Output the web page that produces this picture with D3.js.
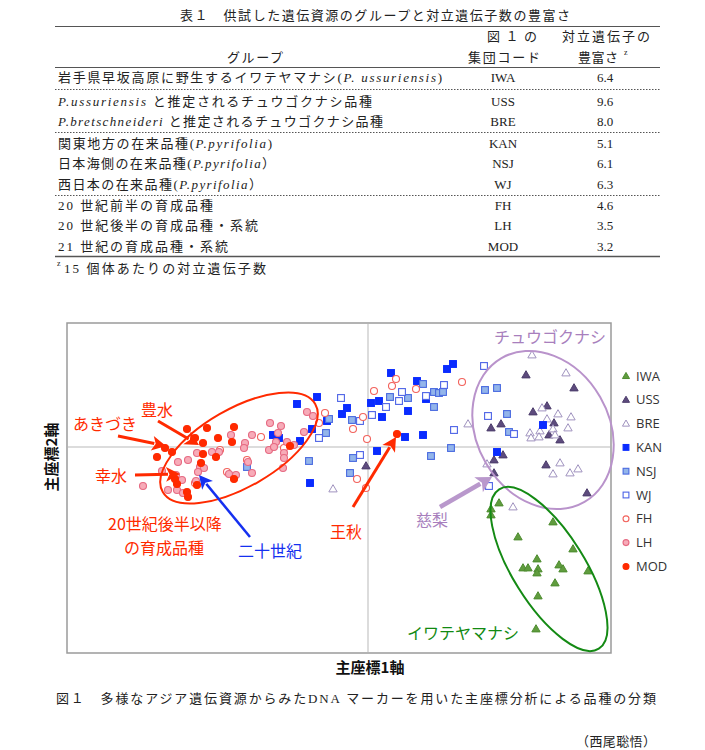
<!DOCTYPE html>
<html><head><meta charset="utf-8">
<script src="https://cdn.jsdelivr.net/npm/d3@7"></script>
<style>body{margin:0;background:#fff}</style>
</head><body><svg id="c" width="705" height="750"></svg>
<script>
// ---------- table data ----------
const tableTitle = "表１　供試した遺伝資源のグループと対立遺伝子数の豊富さ";
const rowLabels = [
  [["岩手県早坂高原に野生するイワテヤマナシ(",0],["P. ussuriensis",1],[")",0]],
  [["P.ussuriensis",1],[" と推定されるチュウゴクナシ品種",0]],
  [["P.bretschneideri",1],[" と推定されるチュウゴクナシ品種",0]],
  [["関東地方の在来品種(",0],["P.pyrifolia",1],[")",0]],
  [["日本海側の在来品種(",0],["P.pyrifolia",1],["）",0]],
  [["西日本の在来品種(",0],["P.pyrifolia",1],["）",0]],
  [["20 世紀前半の育成品種",0]],
  [["20 世紀後半の育成品種・系統",0]],
  [["21 世紀の育成品種・系統",0]]
];
const rowWidths = [384, 314, 325, 214, 217, 204, 155, 200, 170];
const codes = ["IWA","USS","BRE","KAN","NSJ","WJ","FH","LH","MOD"];
const richness = ["6.4","9.6","8.0","5.1","6.1","6.3","4.6","3.5","3.2"];

// ---------- scatter data (principal coordinates) ----------
const IWA = [[1.31,-0.56],[1.23,-0.62],[1.23,-0.68],[1.85,-0.75],[1.50,-0.90],[2.05,-1.02],[1.69,-1.12],[1.55,-1.21],[1.60,-1.21],[1.70,-1.22],[1.69,-1.26],[1.91,-1.18],[1.95,-1.22],[2.20,-1.24],[1.87,-1.36],[1.70,-1.49],[1.68,-1.82]];
const USS = [[1.58,0.72],[2.06,0.59],[1.65,0.35],[1.79,0.41],[1.23,0.19],[1.33,0.23],[1.86,0.24],[1.81,0.12],[1.92,0.07],[1.35,-0.08],[1.26,-0.13],[1.26,-0.26],[1.78,-0.18],[2.19,-0.46],[-0.02,-0.19]];
const BRE = [[1.64,0.92],[1.98,0.74],[1.74,0.39],[1.79,0.28],[1.90,0.33],[2.03,0.30],[2.00,0.19],[1.85,0.18],[1.72,0.16],[1.62,0.14],[1.63,0.09],[1.71,0.10],[1.87,0.12],[1.00,0.23],[1.19,-0.17],[1.92,-0.16],[2.10,-0.22],[1.85,-0.27],[2.02,-0.26],[-0.35,-0.42],[1.45,-0.60]];
const KAN = [[-0.71,0.43],[-0.51,0.50],[-0.21,0.39],[-0.26,0.33],[-0.41,0.26],[-0.56,0.18],[-0.68,0.06],[-0.95,0.12],[-0.89,0.09],[-0.58,-0.36],[0.23,0.74],[0.49,0.66],[0.79,0.78],[0.85,0.83],[0.03,0.44],[0.11,0.46],[0.14,0.30],[0.40,0.36],[0.37,0.10],[0.55,0.12],[0.09,-0.04],[0.58,0.48],[1.75,0.22],[1.29,-0.05]];
const NSJ = [[-0.39,0.28],[-0.42,0.14],[-0.16,0.27],[-0.18,-0.26],[-0.15,-0.11],[-0.59,-0.14],[-1.21,-0.20],[0.22,0.50],[0.40,0.49],[0.55,0.63],[0.66,0.55],[0.71,0.54],[0.75,0.55],[0.66,0.40],[0.83,-0.01],[0.63,-0.09],[1.17,0.57],[1.29,0.59],[1.39,0.33],[1.41,0.15]];
const WJ = [[-0.27,0.49],[0.04,0.32],[-0.08,0.26],[-0.49,0.09],[-0.08,-0.08],[0.18,0.40],[0.31,0.46],[0.34,0.55],[0.58,0.51],[0.76,0.62],[0.86,0.17],[1.16,0.81],[1.20,0.31],[1.46,0.13],[1.21,-0.39]];
const FH = [[-1.07,0.10],[-1.48,-0.03],[-1.41,-0.25],[-0.43,0.34],[-0.15,0.18],[-0.01,0.08],[0.06,0.56],[-0.05,0.30],[0.24,0.61],[0.28,0.68],[0.48,0.58],[0.94,0.65],[-0.11,-0.32],[-0.84,-0.01],[-1.21,-0.13],[-1.73,-0.36],[-0.49,0.24],[-0.02,-0.41]];
const LH = [[-1.37,0.12],[-1.23,0.04],[-1.24,-0.01],[-1.56,-0.05],[-1.49,-0.05],[-1.71,-0.06],[-1.90,-0.15],[-1.80,-0.13],[-1.68,-0.20],[-1.64,-0.21],[-1.70,-0.25],[-1.92,-0.28],[-1.86,-0.33],[-1.72,-0.34],[-1.91,-0.43],[-1.85,-0.46],[-2.00,-0.43],[-2.25,-0.39],[-2.06,-0.24],[-1.39,-0.27],[-1.32,-0.28],[-1.16,-0.26],[-1.20,-0.15],[-1.16,0.12],[-0.98,0.24],[-0.87,0.21],[-0.90,0.14],[-0.92,0.05],[-0.99,-0.03],[-0.94,0.00],[-0.81,0.05],[-0.84,-0.06],[-0.84,-0.11],[-0.85,-0.21],[-0.64,0.15],[-0.74,0.02],[-0.61,0.35],[-0.55,0.31]];
const MOD = [[-1.81,0.18],[-1.61,0.19],[-1.34,0.20],[-1.50,0.09],[-1.36,0.05],[-1.73,0.09],[-1.65,0.04],[-2.03,-0.01],[-1.96,-0.05],[-2.11,-0.10],[-1.65,-0.07],[-1.52,-0.10],[-1.67,-0.16],[-1.34,-0.32],[-1.93,-0.32],[-1.91,-0.37],[-1.71,-0.38],[-1.81,-0.45],[-1.80,-0.50],[-0.78,0.01],[0.29,0.13]];

const seriesNames = ["IWA","USS","BRE","KAN","NSJ","WJ","FH","LH","MOD"];
const seriesData = [IWA,USS,BRE,KAN,NSJ,WJ,FH,LH,MOD];

// annotations (in principal-coordinate units)
const labels = [
  {t:"あきづき", x:-2.63, y:0.23, c:"#ff2a00"},
  {t:"豊水", x:-2.11, y:0.37, c:"#ff2a00"},
  {t:"幸水", x:-2.57, y:-0.29, c:"#ff2a00"},
  {t:"20世紀後半以降", x:-2.03, y:-0.775, c:"#ff2a00"},
  {t:"の育成品種", x:-2.04, y:-1.01, c:"#ff2a00"},
  {t:"二十世紀", x:-0.98, y:-1.04, c:"#1530f0"},
  {t:"王秋", x:-0.22, y:-0.85, c:"#ff2a00"},
  {t:"慈梨", x:0.64, y:-0.73, c:"#a87fbd"},
  {t:"チュウゴクナシ", x:1.82, y:1.10, c:"#a87fbd"},
  {t:"イワテヤマナシ", x:0.95, y:-1.86, c:"#128a12"}
];
const arrows = [
  {x1:-2.50,y1:0.11,x2:-2.02,y2:0.01,c:"#ff2a00",w:3},
  {x1:-2.10,y1:0.26,x2:-1.69,y2:0.02,c:"#ff2a00",w:3},
  {x1:-2.33,y1:-0.28,x2:-1.88,y2:-0.27,c:"#ff2a00",w:3},
  {x1:-1.18,y1:-0.90,x2:-1.69,y2:-0.28,c:"#1530f0",w:2.5},
  {x1:-0.15,y1:-0.60,x2:0.28,y2:0.10,c:"#ff2a00",w:3},
  {x1:0.72,y1:-0.60,x2:1.24,y2:-0.30,c:"#b998cc",w:4.5}
];
const ellipses = [
  {cx:-1.29, cy:-0.01, rx:88, ry:39, rot:-30, c:"#ff2a00"},
  {cx:1.75, cy:0.17, rx:83, ry:66, rot:60, c:"#b993cb"},
  {cx:1.81, cy:-1.22, rx:94, ry:36, rot:58, c:"#148a14"}
];

const svg = d3.select("#c");
const JP = "'Noto Sans CJK JP', sans-serif";
const SERIF = "'Liberation Serif', 'Noto Sans CJK JP', serif";

// ---------- table ----------
const T = svg.append("g").attr("font-family", SERIF).attr("font-size", 13).attr("fill", "#222");
T.append("text").attr("x", 375).attr("y", 20).attr("text-anchor","middle")
  .attr("textLength", 390).attr("lengthAdjust","spacing").text(tableTitle);
const L = (y, dash, w) => T.append("line").attr("x1",55).attr("x2",660).attr("y1",y).attr("y2",y)
  .attr("stroke","#555").attr("stroke-width",w||1).attr("stroke-dasharray",dash||null);
L(26.5); L(67.5);
T.append("text").attr("x",512).attr("y",41).attr("text-anchor","middle").attr("textLength",50).attr("lengthAdjust","spacing").text("図１の");
T.append("text").attr("x",606).attr("y",41).attr("text-anchor","middle").attr("textLength",88).attr("lengthAdjust","spacing").text("対立遺伝子の");
T.append("text").attr("x",255).attr("y",62).attr("text-anchor","middle").attr("textLength",56).attr("lengthAdjust","spacing").text("グループ");
T.append("text").attr("x",504).attr("y",62).attr("text-anchor","middle").attr("textLength",72).attr("lengthAdjust","spacing").text("集団コード");
T.append("text").attr("x",598).attr("y",62).attr("text-anchor","middle").attr("textLength",40).attr("lengthAdjust","spacing").text("豊富さ");
T.append("text").attr("x",624).attr("y",55).attr("font-size",8).text("z");

const rowY = [82, 106, 126, 148, 168, 189, 210, 230, 251];
rowLabels.forEach((segs, i) => {
  const t = T.append("text").attr("x", 58).attr("y", rowY[i])
    .attr("textLength", rowWidths[i]).attr("lengthAdjust","spacing");
  segs.forEach(s => t.append("tspan").attr("font-style", s[1] ? "italic" : null).text(s[0]));
  T.append("text").attr("x",503).attr("y",rowY[i]).attr("text-anchor","middle").text(codes[i]);
  T.append("text").attr("x",605).attr("y",rowY[i]).attr("text-anchor","middle").text(richness[i]);
});
[89.5, 132.5, 195.5].forEach(y => L(y, "1.5,1.5", 1));
L(256.5, null, 1.5);
T.append("text").attr("x",57).attr("y",266).attr("font-size",8).text("z");
T.append("text").attr("x",64).attr("y",273).attr("textLength",202).attr("lengthAdjust","spacing").text("15 個体あたりの対立遺伝子数");

// ---------- scatter ----------
const x = d3.scaleLinear().domain([-3.01, 2.43]).range([67, 611]);
const y = d3.scaleLinear().domain([1.24, -2.06]).range([323, 653]);

const P = svg.append("g");
P.append("rect").attr("x",67).attr("y",323).attr("width",544).attr("height",330)
  .attr("fill","#fff").attr("stroke","#9a9a9a").attr("stroke-width",1.5);
P.append("line").attr("x1",x(0)).attr("x2",x(0)).attr("y1",324).attr("y2",652).attr("stroke","#d0d0d0").attr("stroke-width",1.5);
P.append("line").attr("x1",68).attr("x2",610).attr("y1",y(0)).attr("y2",y(0)).attr("stroke","#d0d0d0").attr("stroke-width",1.5);

const styles = {
  IWA:{shape:"tri", fill:"#609c3e", stroke:"#4e8c30"},
  USS:{shape:"tri", fill:"#5d4b7d", stroke:"#4d3d6c"},
  BRE:{shape:"tri", fill:"#ffffff", stroke:"#a093bf"},
  KAN:{shape:"sq", fill:"#0a2cff", stroke:"#0a2cff"},
  NSJ:{shape:"sq", fill:"#93b5ea", stroke:"#4a6ae0"},
  WJ:{shape:"sq", fill:"#ffffff", stroke:"#4d63e6"},
  FH:{shape:"ci", fill:"#ffffff", stroke:"#f2625c"},
  LH:{shape:"ci", fill:"#f7abb8", stroke:"#e66a82"},
  MOD:{shape:"ci", fill:"#ff2a00", stroke:"#ff2a00"}
};
function drawMark(g, name, px, py, scale) {
  const s = styles[name]; const k = scale || 1;
  if (s.shape === "tri") {
    g.append("path").attr("d", d3.symbol(d3.symbolTriangle, 30*k*k)())
      .attr("transform", `translate(${px},${py+0.5})`)
      .attr("fill", s.fill).attr("stroke", s.stroke).attr("stroke-width", 1);
  } else if (s.shape === "sq") {
    const h = 3.4*k;
    g.append("rect").attr("x", px-h).attr("y", py-h).attr("width", 2*h).attr("height", 2*h)
      .attr("fill", s.fill).attr("stroke", s.stroke).attr("stroke-width", 1.1);
  } else {
    g.append("circle").attr("cx", px).attr("cy", py).attr("r", 3.5*k)
      .attr("fill", s.fill).attr("stroke", s.stroke).attr("stroke-width", 1.1);
  }
}
const M = svg.append("g");
seriesNames.forEach((n, i) => {
  seriesData[i].forEach(d => drawMark(M, n, x(d[0]), y(d[1])));
});

// ellipses
const E = svg.append("g").attr("fill","none");
ellipses.forEach(e => {
  E.append("ellipse").attr("cx",0).attr("cy",0).attr("rx",e.rx).attr("ry",e.ry)
    .attr("transform",`translate(${x(e.cx)},${y(e.cy)}) rotate(${e.rot})`)
    .attr("stroke",e.c).attr("stroke-width",2);
});

// arrows
const A = svg.append("g");
arrows.forEach(a => {
  const X1=x(a.x1), Y1=y(a.y1), X2=x(a.x2), Y2=y(a.y2);
  const ang = Math.atan2(Y2-Y1, X2-X1);
  const hl = 11 + a.w, hw = 5 + a.w*0.8;
  const bx = X2 - hl*Math.cos(ang), by = Y2 - hl*Math.sin(ang);
  A.append("line").attr("x1",X1).attr("y1",Y1).attr("x2",bx+2*Math.cos(ang)).attr("y2",by+2*Math.sin(ang))
    .attr("stroke",a.c).attr("stroke-width",a.w);
  const px = -Math.sin(ang), py = Math.cos(ang);
  A.append("path").attr("d",`M${X2},${Y2}L${bx+hw*px},${by+hw*py}L${bx+hl*0.25*Math.cos(ang)},${by+hl*0.25*Math.sin(ang)}L${bx-hw*px},${by-hw*py}Z`)
    .attr("fill",a.c);
});

// labels
const LB = svg.append("g").attr("font-family", JP).attr("font-size", 16).attr("text-anchor","middle");
labels.forEach(l => {
  LB.append("text").attr("x", x(l.x)).attr("y", y(l.y)).attr("dy","0.36em").attr("fill", l.c).text(l.t);
});

// legend
const LG = svg.append("g").attr("font-family","'Open Sans', 'Noto Sans', sans-serif").attr("font-size",13).attr("fill","#333");
seriesNames.forEach((n, i) => {
  const ly = 376 + i*23.8;
  drawMark(LG, n, 626, ly, 0.85);
  LG.append("text").attr("x",636).attr("y",ly).attr("dy","0.36em").text(n);
});

// axis titles
svg.append("text").attr("x",370).attr("y",668).attr("dy","0.36em").attr("text-anchor","middle")
  .attr("font-family",JP).attr("font-weight","bold").attr("font-size",15).attr("fill","#111").text("主座標1軸");
svg.append("text").attr("transform","translate(52,457) rotate(-90)").attr("dy","0.36em").attr("text-anchor","middle")
  .attr("font-family",JP).attr("font-weight","bold").attr("font-size",15).attr("fill","#111").text("主座標2軸");

// captions
svg.append("text").attr("x",56).attr("y",703).attr("font-family",SERIF).attr("font-size",13).attr("fill","#222")
  .attr("textLength",600).attr("lengthAdjust","spacing").text("図１　多様なアジア遺伝資源からみたDNA マーカーを用いた主座標分析による品種の分類");
svg.append("text").attr("x",576).attr("y",746).attr("font-family",SERIF).attr("font-size",13).attr("fill","#222")
  .attr("textLength",80).attr("lengthAdjust","spacing").text("（西尾聡悟）");
</script></body></html>
